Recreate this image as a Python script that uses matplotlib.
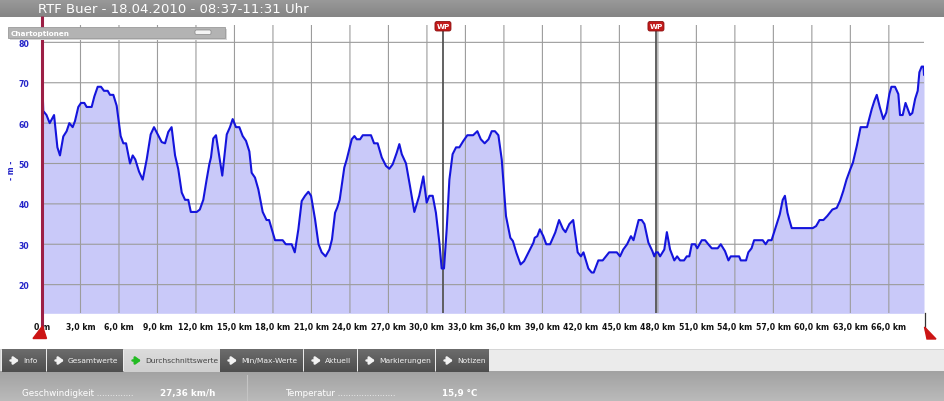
import matplotlib
matplotlib.use("Agg")
import matplotlib.pyplot as plt
import numpy as np
from matplotlib.patches import Rectangle, FancyBboxPatch, Polygon

# ---------------- data ----------------
dist_km = [0.0, 0.05, 0.1, 0.35, 0.6, 0.94, 1.2, 1.4, 1.66, 1.92, 2.13, 2.39, 2.57, 2.83,
           3.04, 3.3, 3.48, 3.87, 4.08, 4.34, 4.6, 4.83, 5.12, 5.3, 5.56, 5.82, 6.13, 6.34,
           6.55, 6.86, 7.07, 7.27, 7.56, 7.85, 8.16, 8.47, 8.73, 9.02, 9.33, 9.59, 9.84,
           10.1, 10.37, 10.62, 10.89, 11.15, 11.4, 11.6, 12.06, 12.3, 12.57, 12.83, 13.04,
           13.17, 13.35, 13.56, 14.05, 14.4, 14.65, 14.86, 15.12, 15.38, 15.64, 15.9, 16.16,
           16.34, 16.6, 16.86, 17.2, 17.5, 17.7, 17.98, 18.16, 18.76, 19.0, 19.46, 19.7,
           19.98, 20.24, 20.5, 20.76, 20.97, 21.28, 21.55, 21.8, 22.1, 22.4, 22.6, 22.84,
           23.0, 23.2, 23.56, 23.75, 24.14, 24.35, 24.53, 24.79, 25.0, 25.64, 25.88, 26.16,
           26.48, 26.81, 27.07, 27.33, 27.65, 27.85, 28.04, 28.37, 28.68, 29.02, 29.4,
           29.72, 29.98, 30.19, 30.45, 30.7, 30.97, 31.15, 31.33, 31.54, 31.75, 32.0, 32.27,
           32.53, 32.84, 33.15, 33.6, 33.93, 34.2, 34.5, 34.8, 35.05, 35.3, 35.57, 35.83,
           36.16, 36.5, 36.7, 36.97, 37.3, 37.57, 37.9, 38.3, 38.4, 38.6, 38.8, 39.07, 39.3,
           39.6, 40.0, 40.3, 40.6, 40.8, 41.1, 41.4, 41.75, 42.0, 42.2, 42.58, 42.84, 43.0,
           43.36, 43.7, 44.2, 44.8, 45.05, 45.3, 45.6, 45.9, 46.1, 46.5, 46.74, 46.95, 47.26,
           47.57, 47.72, 47.85, 48.0, 48.17, 48.5, 48.7, 48.95, 49.28, 49.5, 49.73, 50.04,
           50.25, 50.45, 50.64, 50.9, 51.07, 51.42, 51.68, 51.93, 52.2, 52.66, 52.9, 53.23,
           53.5, 53.68, 54.33, 54.46, 54.87, 55.05, 55.3, 55.5, 56.17, 56.4, 56.6, 56.86,
           57.26, 57.5, 57.73, 57.9, 58.1, 58.25, 58.43, 60.07, 60.33, 60.6, 60.9, 61.2,
           61.6, 61.94, 62.2, 62.45, 62.7, 63.0, 63.2, 63.5, 63.8, 64.3, 64.67, 64.87, 65.06,
           65.3, 65.57, 65.8, 66.04, 66.2, 66.48, 66.74, 66.87, 67.08, 67.3, 67.65, 67.83,
           68.05, 68.25, 68.38, 68.56, 68.7, 68.74]
elev_m = [68, 68, 63, 62, 60, 62, 54, 52, 56.7, 58, 60, 59, 60.5, 64,
          65, 65, 64, 64, 66.6, 69, 69, 68, 68, 67, 67, 64.3, 56.8, 55,
          55, 50, 52, 51, 48, 46, 51, 57.2, 59, 57.2, 55.3, 55, 57.8,
          59, 52, 48.6, 42.8, 41, 41, 38, 38, 38.6, 41, 46, 49.8,
          51.5, 56.2, 57, 47, 57.2, 59, 61, 59, 59, 56.8, 55.6, 53,
          47.7, 46.5, 43.6, 38, 36, 36, 33, 31, 31, 30, 30, 28,
          33.7, 40.7, 42, 43, 42, 36.2, 30, 28, 27, 28.7, 31.2, 37.8,
          39, 41, 49, 51, 56, 56.8, 56, 56, 57, 57, 55, 55,
          51.5, 49.4, 48.7, 49.8, 52.7, 54.8, 52.3, 50, 44.4, 38, 42,
          46.8, 40.3, 42, 42, 37.8, 30.4, 24, 24, 33.7, 46, 52.3, 54,
          54, 55.6, 57, 57, 58, 56, 55, 56, 58, 58, 57, 51,
          37, 31.6, 30.8, 27.9, 25, 25.8, 27.9, 30.4, 31.6, 32, 33.7, 32, 30,
          30, 32.9, 36, 33.8, 33, 35, 36, 28, 27, 28, 24, 23, 23,
          26, 26, 28, 28, 27, 28.7, 30, 32, 31, 36, 36, 35, 30.4,
          28.3, 27, 28, 28, 27, 28.7, 33, 28.7, 26, 27, 26, 26,
          27, 27, 30, 30, 29, 31, 31, 30, 29, 29, 30, 28.3,
          26, 27, 27, 26, 26, 28, 29, 31, 31, 30, 31, 31,
          35, 37.4, 41, 42, 37.8, 36, 34, 34, 34.5, 36, 36, 37,
          38.6, 39, 40.8, 43.2, 46, 48.6, 50.2, 54.3, 59, 59, 63.5, 65.5, 67,
          63.9, 61, 62.6, 67.2, 69, 69, 67.2, 62, 62, 65, 62, 62.5,
          66, 68, 72.6, 74, 74, 72]

xtick_km = list(range(0, 67, 3))
xtick_labels = ["0 m"] + [f"{v},0 km" for v in xtick_km[1:]]
ytick_m = [20, 30, 40, 50, 60, 70, 80]
waypoints_km = [31.25, 47.85]
title = "RTF Buer - 18.04.2010 - 08:37-11:31 Uhr"
tabs = ["Info", "Gesamtwerte", "Durchschnittswerte", "Min/Max-Werte",
        "Aktuell", "Markierungen", "Notizen"]
active_tab = "Durchschnittswerte"
stat_labels = ["Geschwindigkeit ..............", "Temperatur ......................"]
stat_values = ["27,36 km/h", "15,9 °C"]

# ---------------- layout ----------------
W, H = 945, 402
fig = plt.figure(figsize=(W / 100, H / 100), dpi=100)
fig.patch.set_facecolor("white")

PL, PR, PT, PB = 42, 924, 26, 314.3
YMIN, YMAX = 12.9, 84.3
XMAX = 68.74

ax = fig.add_axes([PL / W, 1 - PB / H, (PR - PL) / W, (PB - PT) / H])
ax.set_facecolor("white")
ax.fill_between(dist_km, elev_m, YMIN, color="#c9c9f9", lw=0, zorder=1)
ax.plot(dist_km, elev_m, color="#1414dc", lw=1.5, zorder=4, solid_joinstyle="round")
ax.set_xlim(0, XMAX)
ax.set_ylim(YMIN, YMAX)
ax.set_xticks(xtick_km)
ax.set_xticklabels(xtick_labels)
ax.set_yticks(ytick_m)
ax.set_yticklabels([str(v) for v in ytick_m])
for v in xtick_km[1:]:
    ax.axvline(v, color="#9c9c9c", lw=0.8, zorder=2, snap=False)
for v in ytick_m:
    ax.axhline(v, color="#9c9c9c", lw=0.8, zorder=2, snap=False)
for s in ax.spines.values():
    s.set_visible(False)
ax.tick_params(axis="both", length=0)
ax.tick_params(axis="x", pad=6, labelsize=5.6, labelcolor="#111111")
ax.tick_params(axis="y", pad=9, labelsize=5.6, labelcolor="#2424c8")
for lab in ax.get_xticklabels() + ax.get_yticklabels():
    lab.set_fontweight("bold")
ax.set_ylabel("- m -", color="#2424c8", fontsize=5.5, fontweight="bold")
ax.yaxis.set_label_coords(-(PL - 16) / (PR - PL), 0.5)

# waypoint lines
for wp in waypoints_km:
    ax.axvline(wp, color="#555555", lw=1.3, zorder=3)

# ---------------- UI overlay (pixel coords) ----------------
ui = fig.add_axes([0, 0, 1, 1], zorder=5)
ui.set_xlim(0, W)
ui.set_ylim(H, 0)
ui.axis("off")
ui.patch.set_alpha(0)

def grad(x0, x1, y0, y1, c_top, c_bot, z=1):
    c_top = np.array(matplotlib.colors.to_rgb(c_top))
    c_bot = np.array(matplotlib.colors.to_rgb(c_bot))
    t = np.linspace(0, 1, 32)[:, None]
    img = (c_top * (1 - t) + c_bot * t)[:, None, :]
    ui.imshow(img, extent=(x0, x1, y1, y0), aspect="auto", zorder=z, interpolation="bilinear")

# title bar
grad(0, W, 0, 18, "#9a9a9a", "#858585")
ui.text(38, 9.5, title, color="white", fontsize=9.5, va="center", ha="left", zorder=3)

# start marker
ui.plot([42.3, 42.3], [17, 330], color="#9c1f45", lw=2.2, zorder=2, solid_capstyle="butt")
ui.add_patch(Polygon([(42.5, 327), (33, 339.5), (46.5, 339.5)], closed=True,
                     color="#cc1414", zorder=3))
# end marker
ui.plot([924.5, 924.5], [314, 331], color="#333333", lw=0.9, zorder=2)
ui.add_patch(Polygon([(924.5, 328), (936, 340), (927, 340)], closed=True,
                     color="#cc1414", zorder=3))

# WP tags
for wp in waypoints_km:
    px = PL + (PR - PL) * wp / XMAX
    ui.plot([px, px], [30, PT + 2], color="#555555", lw=1.3, zorder=2)
    ui.add_patch(FancyBboxPatch((px - 8, 22.5), 16, 9.5, boxstyle="round,pad=0,rounding_size=2",
                                fc="#c21a1a", ec="#8a1010", lw=0.6, zorder=3))
    ui.text(px, 27.4, "WP", color="white", fontsize=5.2, fontweight="bold",
            ha="center", va="center", zorder=4)

# Chartoptionen box
ui.add_patch(Rectangle((10, 30), 217, 11, fc="#d6d6d6", ec="none", zorder=2))
ui.add_patch(Rectangle((8, 28), 217, 11, fc="#b3b3b3", ec="#9a9a9a", lw=0.6, zorder=3))
ui.text(11, 33.7, "Chartoptionen", color="white", fontsize=5.2, fontweight="bold",
        va="center", ha="left", zorder=4)
ui.add_patch(FancyBboxPatch((195, 31), 16, 4.5, boxstyle="round,pad=0,rounding_size=1.5",
                            fc="#f4f4f4", ec="#888888", lw=0.5, zorder=4))

# tab bar
ui.add_patch(Rectangle((0, 350), W, 22.7, fc="#ebebeb", ec="#cfcfcf", lw=0.6, zorder=1))
tab_edges = [2, 47, 124, 220, 304, 358, 436, 490]
for i, name in enumerate(tabs):
    x0, x1 = tab_edges[i], tab_edges[i + 1] - 1
    if name == active_tab:
        grad(x0, x1 + 1, 350, 373, "#dcdcdc", "#cfcfcf", z=2)
        tcol, acol = "#444444", "#22bb22"
    else:
        grad(x0, x1, 350, 372.7, "#6c6c6c", "#4e4e4e", z=2)
        tcol, acol = "#f2f2f2", "#f2f2f2"
    ui.annotate("", xy=(x0 + 17, 361.5), xytext=(x0 + 8.5, 361.5),
                arrowprops=dict(arrowstyle="-|>,head_length=0.3,head_width=0.22",
                                color=acol, lw=1.8, shrinkA=0, shrinkB=0), zorder=4)
    ui.text(x0 + 21, 361.5, name, color=tcol, fontsize=5.4, va="center", ha="left", zorder=4)

# stats panel
grad(0, W, 372.7, H, "#a2a2a2", "#bababa", z=1)
ui.plot([247, 247], [376, H], color="#c4c4c4", lw=0.8, zorder=2)
stat_x = [(22, 160), (285, 442)]
for (lx, vx), lab, val in zip(stat_x, stat_labels, stat_values):
    ui.text(lx, 393.5, lab, color="white", fontsize=6.3, va="center", ha="left", zorder=3)
    ui.text(vx, 393.5, val, color="white", fontsize=6.3, fontweight="bold",
            va="center", ha="left", zorder=3)

fig.savefig("out.png", dpi=100)
